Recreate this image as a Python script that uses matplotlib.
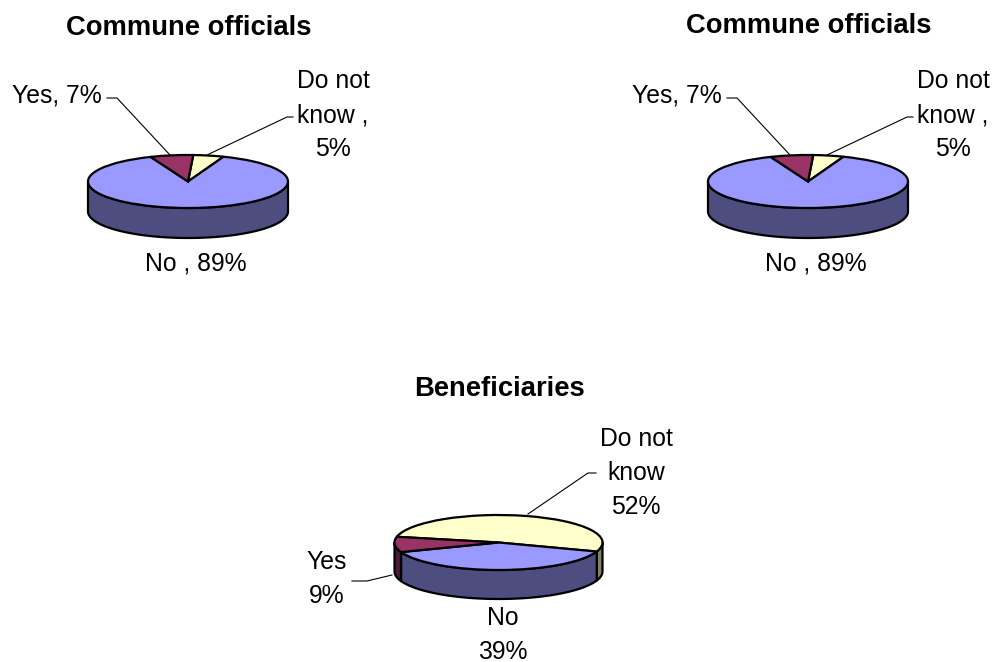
import numpy as np
import matplotlib
matplotlib.use("Agg")
import matplotlib.pyplot as plt
from matplotlib.lines import Line2D
from matplotlib.patches import Polygon

plt.rcParams['font.family'] = ['Liberation Sans', 'DejaVu Sans']

W, H = 992, 662

# Data
categories = ["Do not know", "No", "Yes"]
officials_values = [5, 89, 7]
beneficiaries_values = [52, 39, 9]

# Styles
top_colors = ["#FFFFCC", "#9999FF", "#993366"]
side_colors = ["#808066", "#4D4D80", "#4D1A33"]

fig = plt.figure(figsize=(W / 100, H / 100), dpi=100, facecolor="white")


def fx(x):
    return x / W


def fy(y):
    return 1 - y / H


def pie3d(values, cx, cy, rx, ry, depth, start):
    """Flat pie squeezed to an ellipse, with an extruded front side."""
    pad = 1.02
    total_h = ry * pad + depth * 1.1
    ax = fig.add_axes([fx(cx - rx * pad), fy(cy + total_h),
                       2 * rx * pad / W, (ry * pad + total_h) / H])
    ax.pie(values, colors=top_colors, startangle=90 - start, counterclock=False,
           radius=1, wedgeprops=dict(edgecolor="black", linewidth=1.6, zorder=5))
    ax.set_aspect("auto")
    ax.set_xlim(-pad, pad)
    ax.set_ylim(-total_h / ry, pad)
    ax.axis("off")
    d = depth / ry
    fr = np.asarray(values, float) / sum(values) * 360
    edges = start + np.concatenate([[0], np.cumsum(fr)])
    # the front half of the rim runs over 90..270 degrees clockwise from the top
    for i in range(len(values)):
        for shift in (0, -360, 360):
            a = max(edges[i] + shift, 90)
            b = min(edges[i + 1] + shift, 270)
            if b <= a:
                continue
            t = np.radians(np.linspace(a, b, 80))
            xs, ys = np.sin(t), np.cos(t)
            pts = np.vstack([np.column_stack([xs, ys]),
                             np.column_stack([xs[::-1], ys[::-1] - d])])
            ax.add_patch(Polygon(pts, closed=True, facecolor=side_colors[i],
                                 edgecolor="black", linewidth=1.6, zorder=2,
                                 joinstyle="round"))
    return ax


def label(x, y, s, size=17.8, **kw):
    fig.text(fx(x), fy(y), s, ha="center", va="center", fontsize=size,
             linespacing=1.52, color="black", **kw)


def leader(*pts):
    xs, ys = zip(*pts)
    fig.add_artist(Line2D([fx(v) for v in xs], [fy(v) for v in ys],
                          color="black", lw=0.8, transform=fig.transFigure))


for dx, title_y in ((0, 28), (620, 26)):
    pie3d(officials_values, 188 + dx, 181.5, 100, 26.5, 30, 3)
    label(189 + dx, title_y, "Commune officials", size=19.7, fontweight="bold")
    label(57 + dx, 96, f"{categories[2]}, {officials_values[2]}%")
    label(333 + dx, 115, f"Do not\nknow ,\n{officials_values[0]}%")
    label(196 + dx, 263, f"{categories[1]} , {officials_values[1]}%")
    leader((107 + dx, 98), (117 + dx, 98), (170 + dx, 155))
    leader((207 + dx, 155), (287 + dx, 117), (293 + dx, 117))

pie3d(beneficiaries_values, 498.5, 542.5, 104, 27.5, 29, -78)
label(500, 389, "Beneficiaries", size=19.7, fontweight="bold")
label(636, 473, f"Do not\nknow\n{beneficiaries_values[0]}%")
label(327, 579, f"{categories[2]}\n{beneficiaries_values[2]}%")
label(503, 635, f"{categories[1]}\n{beneficiaries_values[1]}%")
leader((528, 514), (588, 473), (596, 473))
leader((392, 575), (367, 581), (352, 581))

fig.savefig("out.png", dpi=100, facecolor="white")
